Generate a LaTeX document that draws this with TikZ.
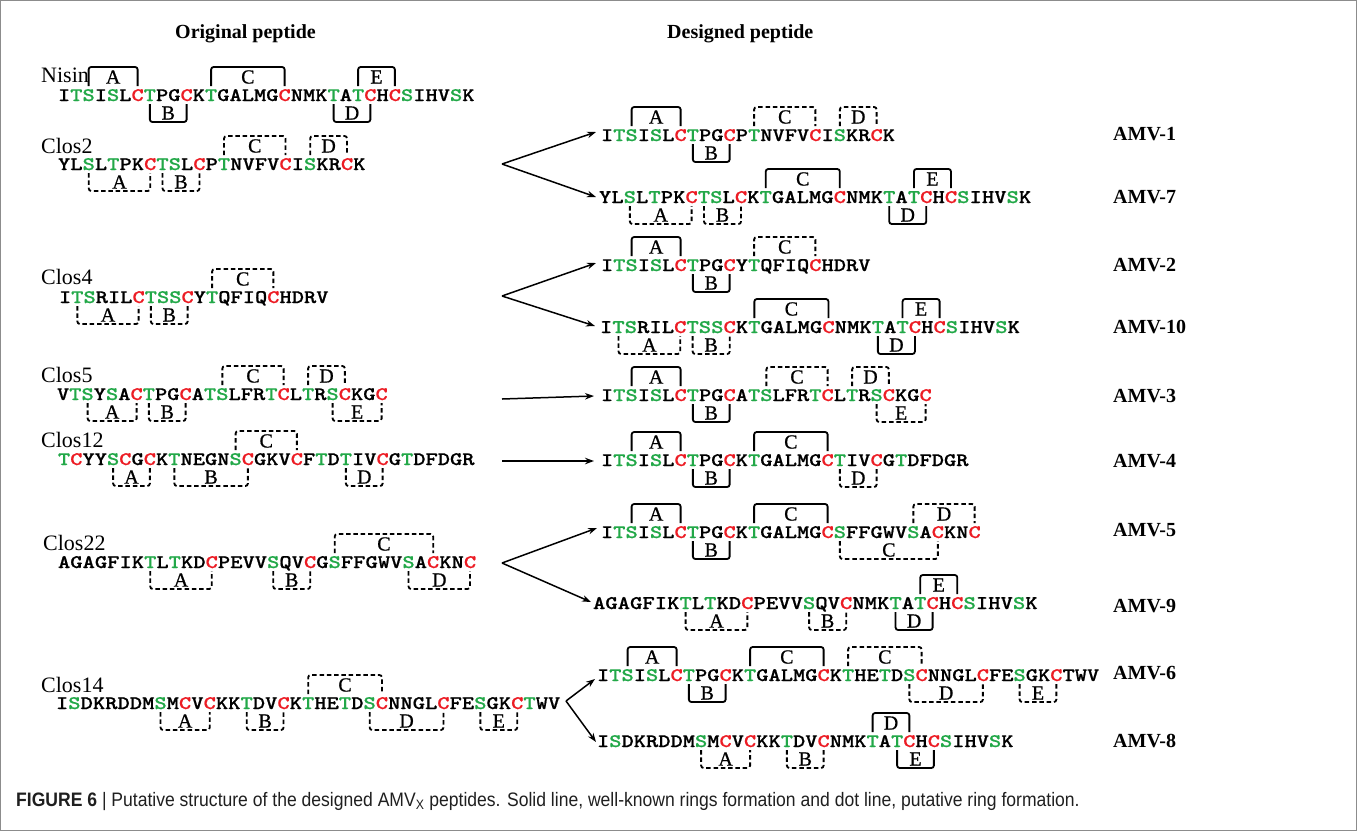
\documentclass[tikz,border=0pt]{standalone}
\usepackage{fontspec}
\setmainfont{Liberation Serif}
\newfontfamily\capfont{Liberation Sans}[FakeStretch=0.9]
\newfontfamily\labff{Liberation Serif}[FakeBold=0.8]
\newfontfamily\seqff{lmmonolt10-bold}[Extension=.otf,FakeBold=0.6]
\usetikzlibrary{arrows.meta}
\definecolor{sgreen}{RGB}{34,168,72}
\definecolor{sred}{RGB}{236,28,36}
\newcommand\Gx[1]{\textcolor{sgreen}{#1}}
\newcommand\Rx[1]{\textcolor{sred}{#1}}
\def\cw{12.25}
\newcommand\seqrow[4]{%
  \pgfmathsetmacro\seqfs{\cw/0.525}%
  \node[seq,font={\seqff\fontsize{\seqfs}{24}\selectfont}] (#1) at (#2,#3) {\scalebox{1}[0.82]{#4}};}
\newcommand\brkU[5][solid]{%
  \pgfmathsetmacro\bxa{(#3+0.5)*\cw}%
  \pgfmathsetmacro\bxb{(#4+0.5)*\cw}%
  \pgfmathsetmacro\bxm{(\bxa+\bxb)/2}%
  \draw[ring,#1] ([shift={(\bxa,-15)}]#2.base west) |- ([shift={(\bxm,-34)}]#2.base west) -| ([shift={(\bxb,-15)}]#2.base west);
  \node[ringlab] (#2U#3) at ([shift={(\bxm,-24)}]#2.base west) {#5};}
\newcommand\brkD[5][solid]{%
  \pgfmathsetmacro\bxa{(#3+0.5)*\cw}%
  \pgfmathsetmacro\bxb{(#4+0.5)*\cw}%
  \pgfmathsetmacro\bxm{(\bxa+\bxb)/2}%
  \draw[ring,#1] ([shift={(\bxa,3)}]#2.base west) |- ([shift={(\bxm,21)}]#2.base west) -| ([shift={(\bxb,3)}]#2.base west);
  \node[ringlab] (#2D#3) at ([shift={(\bxm,12)}]#2.base west) {#5};}
\tikzset{
  seq/.style={anchor=base west, inner sep=0pt, outer sep=0pt},
  ring/.style={line width=1.8pt, rounded corners=2.5pt},
  dsh/.style={dash pattern=on 4.5pt off 2.8pt},
  ringlab/.style={inner sep=0pt, font=\labff\fontsize{20}{20}\selectfont},
  rowlab/.style={anchor=base west, inner sep=0pt, font=\fontsize{22}{24}\selectfont},
  amvlab/.style={anchor=base west, inner sep=0pt, font=\fontsize{20}{24}\selectfont\bfseries},
  ttl/.style={anchor=base west, inner sep=0pt, font=\fontsize{20}{24}\selectfont\bfseries},
  arr/.style={line width=1.5pt, -{Stealth[length=9pt,width=6.5pt]}}
}
\begin{document}
\begin{tikzpicture}[x=1pt,y=-1pt]
\useasboundingbox (0,0) rectangle (1358,831);
\draw[black!45, line width=1.2pt] (0.6,0.6) rectangle (1356.6,830.4);

\node[ttl] (t1) at (175,38) {Original peptide};
\node[ttl] (t2) at (667,38) {Designed peptide};

% ---------- left column ----------
\node[rowlab] (lnisin) at (41,82) {Nisin};
\def\cw{12.25}
\seqrow{nisin}{58}{101}{I\Gx{TS}I\Gx{S}L\Rx{C}\Gx{T}PG\Rx{C}K\Gx{T}GALMG\Rx{C}NMK\Gx{T}A\Gx{T}\Rx{C}H\Rx{C}\Gx{S}IHV\Gx{S}K}
\brkU{nisin}{2}{6}{A}
\brkD{nisin}{7}{10}{B}
\brkU{nisin}{12}{18}{C}
\brkD{nisin}{22}{25}{D}
\brkU{nisin}{24}{27}{E}

\node[rowlab] (lclos2) at (41,153) {Clos2};
\def\cw{12.3}
\seqrow{clos2}{58}{170}{YL\Gx{S}L\Gx{T}PK\Rx{C}\Gx{TS}L\Rx{C}P\Gx{T}NVFV\Rx{C}I\Gx{S}KR\Rx{C}K}
\brkU[dsh]{clos2}{13}{18}{C}
\brkU[dsh]{clos2}{20}{23}{D}
\brkD[dsh]{clos2}{2}{7}{A}
\brkD[dsh]{clos2}{8}{11}{B}

\node[rowlab] (lclos4) at (41,284) {Clos4};
\def\cw{12.25}
\seqrow{clos4}{59}{303}{I\Gx{TS}RIL\Rx{C}\Gx{TSS}\Rx{C}Y\Gx{T}QFIQ\Rx{C}HDRV}
\brkD[dsh]{clos4}{1}{6}{A}
\brkD[dsh]{clos4}{7}{10}{B}
\brkU[dsh]{clos4}{12}{17}{C}

\node[rowlab] (lclos5) at (41,382) {Clos5};
\seqrow{clos5}{57}{400}{V\Gx{TS}Y\Gx{S}A\Rx{C}\Gx{T}PG\Rx{C}A\Gx{TS}LFR\Gx{T}\Rx{C}L\Gx{T}R\Gx{S}\Rx{C}KG\Rx{C}}
\brkD[dsh]{clos5}{2}{6}{A}
\brkD[dsh]{clos5}{7}{10}{B}
\brkU[dsh]{clos5}{13}{18}{C}
\brkU[dsh]{clos5}{20}{23}{D}
\brkD[dsh]{clos5}{22}{26}{E}

\node[rowlab] (lclos12) at (41,447) {Clos12};
\seqrow{clos12}{58}{465}{\Gx{T}\Rx{C}YY\Gx{S}\Rx{C}G\Rx{C}K\Gx{T}NEGN\Gx{S}\Rx{C}GKV\Rx{C}F\Gx{T}D\Gx{T}IV\Rx{C}G\Gx{T}DFDGR}
\brkU[dsh]{clos12}{14}{19}{C}
\brkD[dsh]{clos12}{4}{7}{A}
\brkD[dsh]{clos12}{9}{15}{B}
\brkD[dsh]{clos12}{23}{26}{D}

\node[rowlab] (lclos22) at (43,550) {Clos22};
\def\cw{12.3}
\seqrow{clos22}{58}{568}{AGAGFIK\Gx{T}L\Gx{T}KD\Rx{C}PEVV\Gx{S}QV\Rx{C}G\Gx{S}FFGWV\Gx{S}A\Rx{C}KN\Rx{C}}
\brkD[dsh]{clos22}{7}{12}{A}
\brkD[dsh]{clos22}{17}{20}{B}
\brkU[dsh]{clos22}{22}{30}{C}
\brkD[dsh]{clos22}{28}{33}{D}

\node[rowlab] (lclos14) at (41,692) {Clos14};
\seqrow{clos14}{56}{709}{I\Gx{S}DKRDDM\Gx{S}M\Rx{C}V\Rx{C}KK\Gx{T}DV\Rx{C}K\Gx{T}HE\Gx{T}D\Gx{S}\Rx{C}NNGL\Rx{C}FE\Gx{S}GK\Rx{C}\Gx{T}WV}
\brkD[dsh]{clos14}{8}{12}{A}
\brkD[dsh]{clos14}{15}{18}{B}
\brkU[dsh]{clos14}{20}{26}{C}
\brkD[dsh]{clos14}{25}{31}{D}
\brkD[dsh]{clos14}{34}{37}{E}

% ---------- right column ----------
\def\cw{12.25}
\seqrow{amv1}{601}{141}{I\Gx{TS}I\Gx{S}L\Rx{C}\Gx{T}PG\Rx{C}P\Gx{T}NVFV\Rx{C}I\Gx{S}KR\Rx{C}K}
\brkU{amv1}{2}{6}{A}
\brkD{amv1}{7}{10}{B}
\brkU[dsh]{amv1}{12}{17}{C}
\brkU[dsh]{amv1}{19}{22}{D}

\def\cw{12.35}
\seqrow{amv7}{599}{203}{YL\Gx{S}L\Gx{T}PK\Rx{C}\Gx{TS}L\Rx{C}K\Gx{T}GALMG\Rx{C}NMK\Gx{T}A\Gx{T}\Rx{C}H\Rx{C}\Gx{S}IHV\Gx{S}K}
\brkD[dsh]{amv7}{2}{7}{A}
\brkD[dsh]{amv7}{8}{11}{B}
\brkU{amv7}{13}{19}{C}
\brkD{amv7}{23}{26}{D}
\brkU{amv7}{25}{28}{E}

\def\cw{12.25}
\seqrow{amv2}{601}{271}{I\Gx{TS}I\Gx{S}L\Rx{C}\Gx{T}PG\Rx{C}Y\Gx{T}QFIQ\Rx{C}HDRV}
\brkU{amv2}{2}{6}{A}
\brkD{amv2}{7}{10}{B}
\brkU[dsh]{amv2}{12}{17}{C}

\def\cw{12.35}
\seqrow{amv10}{600}{333}{I\Gx{TS}RIL\Rx{C}\Gx{TSS}\Rx{C}K\Gx{T}GALMG\Rx{C}NMK\Gx{T}A\Gx{T}\Rx{C}H\Rx{C}\Gx{S}IHV\Gx{S}K}
\brkD[dsh]{amv10}{1}{6}{A}
\brkD[dsh]{amv10}{7}{10}{B}
\brkU{amv10}{12}{18}{C}
\brkD{amv10}{22}{25}{D}
\brkU{amv10}{24}{27}{E}

\def\cw{12.25}
\seqrow{amv3}{601}{401}{I\Gx{TS}I\Gx{S}L\Rx{C}\Gx{T}PG\Rx{C}A\Gx{TS}LFR\Gx{T}\Rx{C}L\Gx{T}R\Gx{S}\Rx{C}KG\Rx{C}}
\brkU{amv3}{2}{6}{A}
\brkD{amv3}{7}{10}{B}
\brkU[dsh]{amv3}{13}{18}{C}
\brkU[dsh]{amv3}{20}{23}{D}
\brkD[dsh]{amv3}{22}{26}{E}

\seqrow{amv4}{601}{466}{I\Gx{TS}I\Gx{S}L\Rx{C}\Gx{T}PG\Rx{C}K\Gx{T}GALMG\Rx{C}\Gx{T}IV\Rx{C}G\Gx{T}DFDGR}
\brkU{amv4}{2}{6}{A}
\brkD{amv4}{7}{10}{B}
\brkU{amv4}{12}{18}{C}
\brkD[dsh]{amv4}{19}{22}{D}

\seqrow{amv5}{601}{538}{I\Gx{TS}I\Gx{S}L\Rx{C}\Gx{T}PG\Rx{C}K\Gx{T}GALMG\Rx{C}\Gx{S}FFGWV\Gx{S}A\Rx{C}KN\Rx{C}}
\brkU{amv5}{2}{6}{A}
\brkD{amv5}{7}{10}{B}
\brkU{amv5}{12}{18}{C}
\brkD[dsh]{amv5}{19}{27}{C}
\brkU[dsh]{amv5}{25}{30}{D}

\def\cw{12.35}
\seqrow{amv9}{593}{609}{AGAGFIK\Gx{T}L\Gx{T}KD\Rx{C}PEVV\Gx{S}QV\Rx{C}NMK\Gx{T}A\Gx{T}\Rx{C}H\Rx{C}\Gx{S}IHV\Gx{S}K}
\brkD[dsh]{amv9}{7}{12}{A}
\brkD[dsh]{amv9}{17}{20}{B}
\brkD{amv9}{24}{27}{D}
\brkU{amv9}{26}{29}{E}

\def\cw{12.25}
\seqrow{amv6}{597}{681}{I\Gx{TS}I\Gx{S}L\Rx{C}\Gx{T}PG\Rx{C}K\Gx{T}GALMG\Rx{C}K\Gx{T}HE\Gx{T}D\Gx{S}\Rx{C}NNGL\Rx{C}FE\Gx{S}GK\Rx{C}TWV}
\brkU{amv6}{2}{6}{A}
\brkD{amv6}{7}{10}{B}
\brkU{amv6}{12}{18}{C}
\brkU[dsh]{amv6}{20}{26}{C}
\brkD[dsh]{amv6}{25}{31}{D}
\brkD[dsh]{amv6}{34}{37}{E}

\seqrow{amv8}{597}{747}{I\Gx{S}DKRDDM\Gx{S}M\Rx{C}V\Rx{C}KK\Gx{T}DV\Rx{C}NMK\Gx{T}A\Gx{T}\Rx{C}H\Rx{C}\Gx{S}IHV\Gx{S}K}
\brkD[dsh]{amv8}{8}{12}{A}
\brkD[dsh]{amv8}{15}{18}{B}
\brkU{amv8}{22}{25}{D}
\brkD{amv8}{24}{27}{E}

% ---------- AMV labels ----------
\node[amvlab] (l1) at (1113,140) {AMV-1};
\node[amvlab] (l7) at (1113,203) {AMV-7};
\node[amvlab] (l2) at (1113,271) {AMV-2};
\node[amvlab] (l10) at (1113,333) {AMV-10};
\node[amvlab] (l3) at (1113,402) {AMV-3};
\node[amvlab] (l4) at (1113,467) {AMV-4};
\node[amvlab] (l5) at (1113,536) {AMV-5};
\node[amvlab] (l9) at (1113,612) {AMV-9};
\node[amvlab] (l6) at (1113,679) {AMV-6};
\node[amvlab] (l8) at (1113,747) {AMV-8};

% ---------- arrows ----------
\coordinate (s2) at (502,164);
\coordinate (s4) at (502,296);
\coordinate (s5) at (502,399);
\coordinate (s12) at (502,461);
\coordinate (s22) at (502,563);
\coordinate (s14) at (566,701);
\draw[arr] (s2) -- ([shift={(-5,-9)}]amv1.base west);
\draw[arr] (s2) -- ([shift={(-3,-6)}]amv7.base west);
\draw[arr] (s4) -- ([shift={(-5,-8)}]amv2.base west);
\draw[arr] (s4) -- ([shift={(-5,-7)}]amv10.base west);
\draw[arr] (s5) -- ([shift={(-7,-5)}]amv3.base west);
\draw[arr] (s12) -- ([shift={(-7,-5)}]amv4.base west);
\draw[arr] (s22) -- ([shift={(-4,-10)}]amv5.base west);
\draw[arr] (s22) -- ([shift={(-2,-7)}]amv9.base west);
\draw[arr] (s14) -- ([shift={(-2,-2)}]amv6.base west);
\draw[arr] (s14) -- ([shift={(-1,-5)}]amv8.base west);

% ---------- caption ----------
\node[anchor=base west, inner sep=0pt, text=black!88] (cap) at (16,806)
  {\capfont\fontsize{19.5}{22}\selectfont\textbf{FIGURE 6} | Putative structure of the designed AMV\textsubscript{X} peptides. Solid line, well-known rings formation and dot line, putative ring formation.};
\end{tikzpicture}
\end{document}
